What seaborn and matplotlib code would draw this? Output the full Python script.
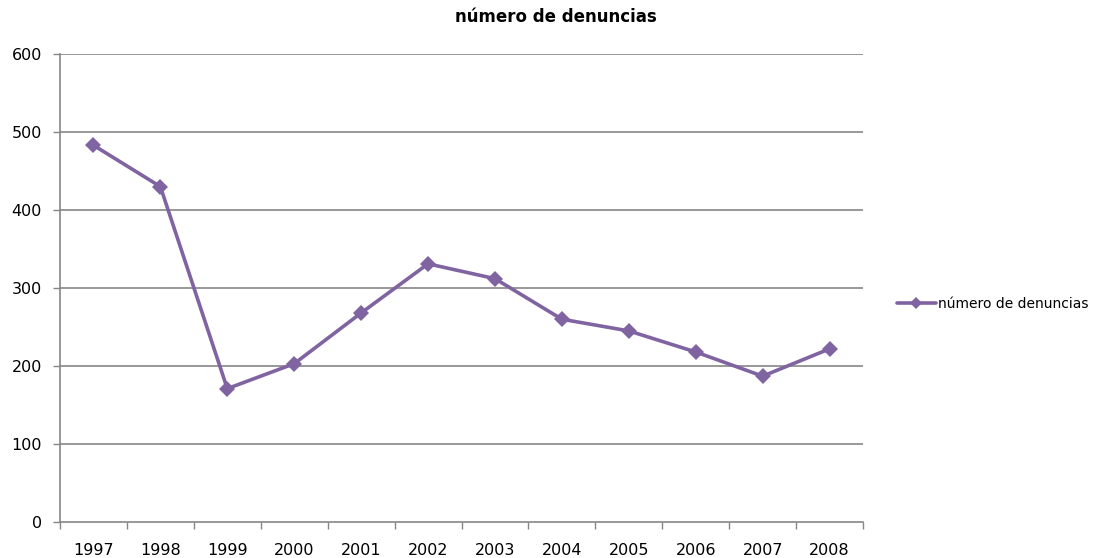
import numpy as np
import pandas as pd
import matplotlib
matplotlib.use('Agg')
import matplotlib.pyplot as plt
import seaborn as sns

# datos
years = ['1997', '1998', '1999', '2000', '2001', '2002',
         '2003', '2004', '2005', '2006', '2007', '2008']
denuncias = [483, 430, 171, 203, 268, 331, 312, 260, 245, 218, 187, 222]
serie = 'número de denuncias'
y_ticks = [0, 100, 200, 300, 400, 500, 600]

df = pd.DataFrame({'year': years, 'valor': denuncias, 'serie': serie})

sns.set_theme(style='white')
plt.rcParams['font.family'] = ['DejaVu Sans']

fig = plt.figure(figsize=(11.05, 5.58), dpi=100)
ax = fig.add_axes([0.0543, 0.0645, 0.7267, 0.8387])

purple = '#8064A2'
grey = '#868686'

sns.lineplot(data=df, x='year', y='valor', hue='serie', palette=[purple],
             marker='D', markersize=8, linewidth=2.6, markeredgewidth=0,
             ax=ax, sort=False)

ax.set_ylim(0, 600)
ax.set_xlim(-0.5, len(years) - 0.5)
ax.set_yticks(y_ticks)
ax.set_xlabel('')
ax.set_ylabel('')

# rejilla horizontal
for v in y_ticks[1:]:
    ax.axhline(v, color=grey, linewidth=1.2, zorder=0)

# ticks tipo excel: marcas entre categorias
ax.set_xticks(range(len(years)))
ax.set_xticklabels(years)
ax.set_xticks(np.arange(-0.5, len(years), 1.0), minor=True)
ax.tick_params(axis='x', which='major', length=0, pad=15, labelsize=11.5, colors='black')
ax.tick_params(axis='x', which='minor', length=5, width=1, color=grey, direction='out', bottom=True)
ax.tick_params(axis='y', which='major', length=5, width=1, color=grey, direction='out',
               left=True, pad=8, labelsize=11.5, labelcolor='black')

for s in ['top', 'right']:
    ax.spines[s].set_visible(False)
for s in ['left', 'bottom']:
    ax.spines[s].set_color(grey)
    ax.spines[s].set_linewidth(1.2)

fig.suptitle(serie, x=0.503, y=0.985, fontsize=12, fontweight='bold', color='black')

leg = ax.legend(loc='center left', bbox_to_anchor=(1.042, (0.455 - 0.0645) / 0.8387),
                frameon=False, fontsize=10, handlelength=2.8, handletextpad=0.15,
                borderpad=0, borderaxespad=0)
for t in leg.get_texts():
    t.set_color('black')
for h in leg.legend_handles:
    h.set_markersize(6)

fig.savefig('out.png', dpi=100)
